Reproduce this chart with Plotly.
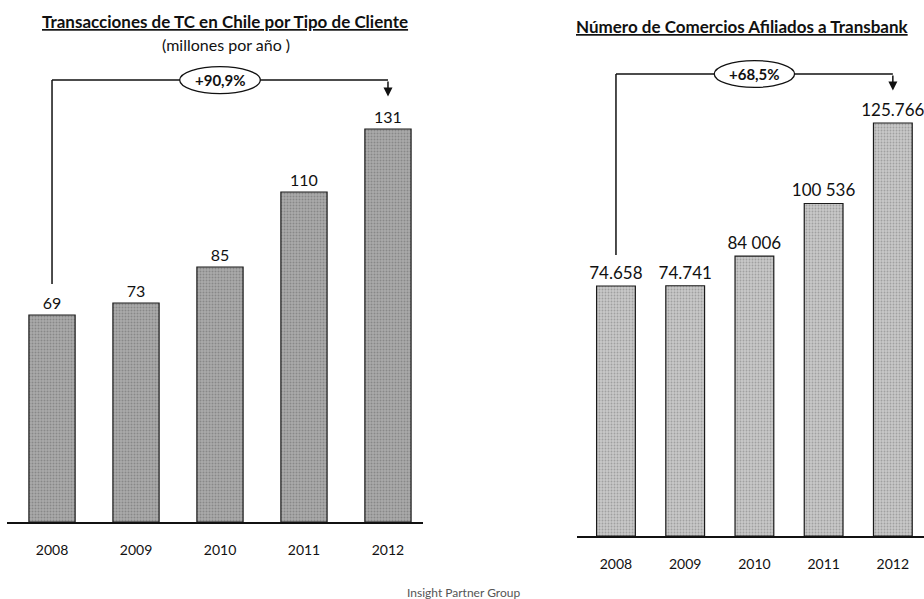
import plotly.graph_objects as go

# ---------------- data ----------------
years = ["2008", "2009", "2010", "2011", "2012"]

transacciones = [69, 73, 85, 110, 131]            # millones por año
transacciones_labels = ["69", "73", "85", "110", "131"]
transacciones_growth = "+90,9%"

comercios = [74658, 74741, 84006, 100536, 125766]
comercios_labels = ["74.658", "74.741", "84 006", "100 536", "125.766"]
comercios_growth = "+68,5%"

title_left = "Transacciones de TC en Chile por Tipo de Cliente"
subtitle_left = "(millones por año )"
title_right = "Número de Comercios Afiliados a Transbank"
source = "Insight Partner Group"

# ---------------- styling ----------------
W, H = 924, 599
FONT = "Lato"
RIGHT_AXIS_MIN = -3736          # right chart value axis does not start at 0

fig = go.Figure()

fig.add_trace(go.Bar(
    x=list(range(len(years))), y=transacciones, text=transacciones_labels,
    textposition="outside", cliponaxis=False, width=0.55, constraintext="none",
    textfont=dict(family=FONT, size=16, color="#111"),
    marker=dict(color="#a0a0a0", line=dict(color="#1a1a1a", width=1.2),
                pattern=dict(shape=".", bgcolor="#ababab", fgcolor="#666666",
                             size=3, solidity=0.35)),
    xaxis="x", yaxis="y", showlegend=False, hoverinfo="skip",
))

fig.add_trace(go.Bar(
    x=list(range(len(years))), y=[v - RIGHT_AXIS_MIN for v in comercios],
    base=RIGHT_AXIS_MIN, text=comercios_labels,
    textposition="outside", cliponaxis=False, width=0.56, constraintext="none",
    textfont=dict(family=FONT, size=17, color="#111"),
    marker=dict(color="#c0c0c0", line=dict(color="#1a1a1a", width=1.2),
                pattern=dict(shape=".", bgcolor="#c8c8c8", fgcolor="#777777",
                             size=3, solidity=0.3)),
    xaxis="x2", yaxis="y2", showlegend=False, hoverinfo="skip",
))

# axes geometry (pixels -> paper domains)
left_base_px, right_base_px = 522, 536
left_px_per_unit = 3.0
right_px_per_unit = 0.003189

xaxis_common = dict(showline=True, linecolor="#111", linewidth=1.5,
                    showgrid=False, zeroline=False, ticks="",
                    tickmode="array", tickvals=list(range(len(years))),
                    ticktext=years, ticklabelstandoff=14,
                    tickfont=dict(family=FONT, size=14, color="#111"))
yaxis_common = dict(visible=False, showgrid=False, zeroline=False)

fig.update_layout(
    width=W, height=H, margin=dict(l=0, r=0, t=0, b=0),
    paper_bgcolor="white", plot_bgcolor="white",
    bargap=0.3,
    xaxis=dict(domain=[7 / W, 423 / W], range=[-0.536, 4.417], anchor="y",
               **xaxis_common),
    yaxis=dict(domain=[1 - left_base_px / H, 1],
               range=[0, left_base_px / left_px_per_unit], anchor="x",
               **yaxis_common),
    xaxis2=dict(domain=[577 / W, 1.0], range=[-0.563, 4.45], anchor="y2",
                **xaxis_common),
    yaxis2=dict(domain=[1 - right_base_px / H, 1],
                range=[RIGHT_AXIS_MIN,
                       RIGHT_AXIS_MIN + right_base_px / right_px_per_unit],
                anchor="x2", **yaxis_common),
)

# ---------------- growth brackets ----------------
def bracket(xr, yr, values, label, top_y, gap, ell_halfw, ell_halfh):
    first, last = 0, len(values) - 1
    line = dict(color="#111", width=1.5)
    fig.add_shape(type="line", xref=xr, yref=yr, x0=first, x1=first,
                  y0=values[first] + gap, y1=top_y, line=line)
    fig.add_shape(type="line", xref=xr, yref=yr, x0=first, x1=last,
                  y0=top_y, y1=top_y, line=line)
    fig.add_shape(type="circle", xref=xr, yref=yr,
                  x0=2 - ell_halfw, x1=2 + ell_halfw,
                  y0=top_y - ell_halfh, y1=top_y + ell_halfh,
                  fillcolor="white", line=dict(color="#111", width=1.3))
    fig.add_annotation(xref=xr, yref=yr, x=last, y=values[last] + gap * 1.05,
                       ax=last, ay=top_y, axref=xr, ayref=yr, text="",
                       showarrow=True, arrowhead=2, arrowsize=1.2,
                       arrowwidth=1.5, arrowcolor="#111")
    fig.add_annotation(xref=xr, yref=yr, x=2, y=top_y, text=f"<b>{label}</b>",
                       showarrow=False, xanchor="center", yanchor="middle",
                       font=dict(family=FONT, size=15, color="#111"))

bracket("x", "y", transacciones, transacciones_growth, top_y=147.3, gap=10.3,
        ell_halfw=0.48, ell_halfh=4.5)
bracket("x2", "y2", comercios, comercios_growth, top_y=141136, gap=9700,
        ell_halfw=0.58, ell_halfh=4200)

# ---------------- titles ----------------
def paper_text(x_px, y_px, text, size, color="#111"):
    fig.add_annotation(xref="paper", yref="paper", x=x_px / W, y=1 - y_px / H,
                       xanchor="center", yanchor="middle", text=text,
                       showarrow=False,
                       font=dict(family=FONT, size=size, color=color))

paper_text(225, 22, f"<b><u>{title_left}</u></b>", 17)
paper_text(226, 44, subtitle_left, 16)
paper_text(742, 26, f"<b><u>{title_right}</u></b>", 17)
paper_text(463, 592, source, 12, "#555")

fig.write_html("out.html",
               config={"displayModeBar": False},
               post_script="document.body.style.margin='0';"
                           "document.body.style.overflow='hidden';")
